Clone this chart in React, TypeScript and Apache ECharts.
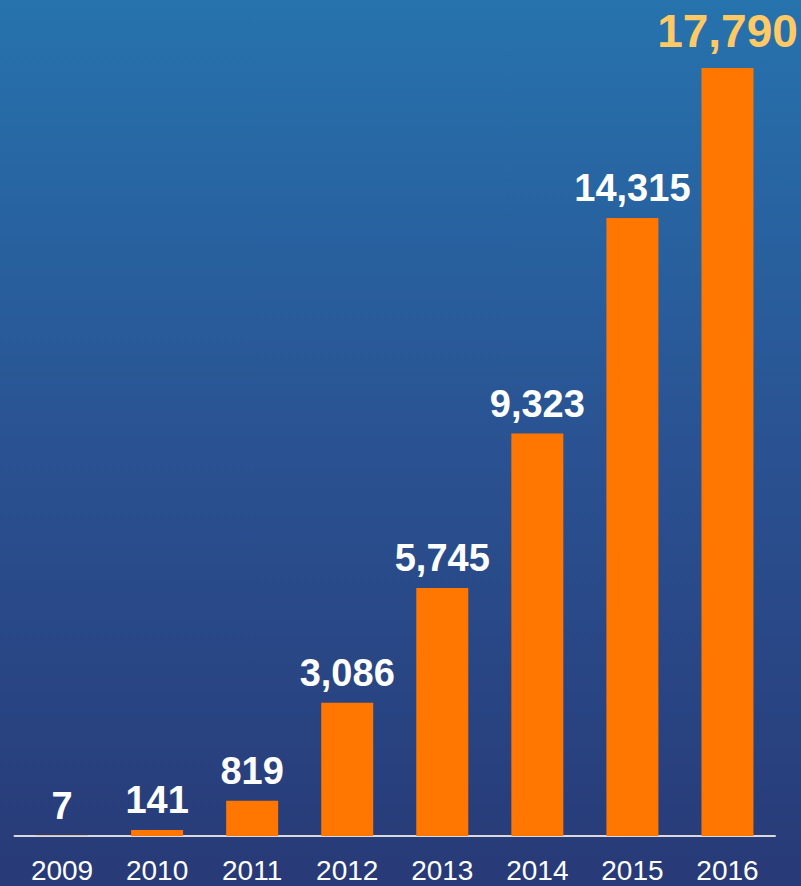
import React, { useEffect, useRef } from "react";
import * as echarts from "echarts";

const years = ["2009", "2010", "2011", "2012", "2013", "2014", "2015", "2016"];
const values = [7, 141, 819, 3086, 5745, 9323, 14315, 17790];

export default function App() {
  const ref = useRef<HTMLDivElement>(null);
  useEffect(() => {
    if (!ref.current) return;
    const chart = echarts.init(ref.current, undefined, { renderer: "svg" });
    const font = "'Liberation Sans', Arial, sans-serif";
    const last = values.length - 1;
    chart.setOption({
      animation: false,
      backgroundColor: {
        type: "linear",
        x: 0,
        y: 0,
        x2: 0,
        y2: 1,
        colorStops: [
          { offset: 0, color: "#2673ae" },
          { offset: 0.5, color: "#2a5292" },
          { offset: 1, color: "#283a77" },
        ],
      },
      grid: {
        left: 14.5,
        right: 26,
        top: 68,
        bottom: 50,
        containLabel: false,
        outerBoundsMode: "none",
      },
      xAxis: {
        type: "category",
        data: years,
        axisLine: { show: true, lineStyle: { color: "#d9d9d9", width: 2 } },
        axisTick: { show: false },
        axisLabel: {
          color: "#ffffff",
          fontSize: 28,
          lineHeight: 28,
          fontFamily: font,
          margin: 20,
          interval: 0,
        },
      },
      yAxis: {
        type: "value",
        min: 0,
        max: 17790,
        show: false,
        splitLine: { show: false },
      },
      series: [
        {
          type: "bar",
          data: values.map((v, i) => ({
            value: v,
            label:
              i === last
                ? { color: "#ffc966", fontSize: 46, distance: 14 }
                : undefined,
          })),
          barWidth: 52,
          itemStyle: { color: "#ff7700" },
          label: {
            show: true,
            position: "top",
            distance: 11,
            color: "#ffffff",
            fontSize: 38,
            fontWeight: "bold",
            fontFamily: font,
            formatter: (p: any) => Number(p.value).toLocaleString("en-US"),
          },
        },
      ],
    });
    return () => chart.dispose();
  }, []);
  return (
    <div
      ref={ref}
      style={{ position: "fixed", left: 0, top: 0, width: 801, height: 886 }}
    />
  );
}
